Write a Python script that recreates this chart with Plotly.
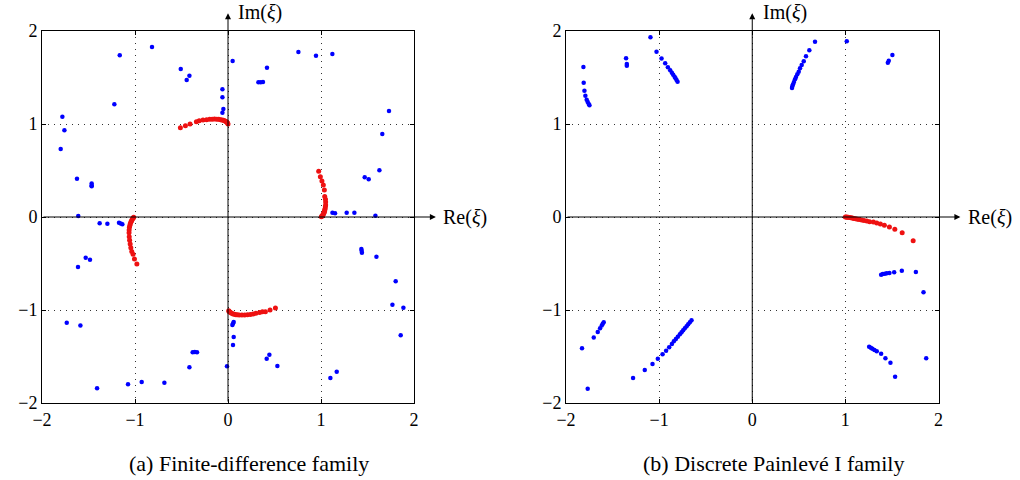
import plotly.graph_objects as go

# ---------------- data ----------------
tick_vals = [-2, -1, 0, 1, 2]
tick_text = ["\u22122", "\u22121", "0", "1", "2"]
captions = ["(a) Finite-difference family", "(b) Discrete Painlev\u00e9 I family"]

# (a) Finite-difference family: blue points
fd_blue_re = [-0.817, -1.164, 0.05, -0.508, -0.415, -0.444, -0.06, -0.06, -0.05, -0.06,
              -1.222, -1.781, -1.759, -1.799, -1.624, -1.466, -1.466, -1.466, -1.61,
              0.419, 0.327, 0.352, 0.376, 0.757, 0.946, 1.122, 1.731, 1.659, 1.628, 1.47, 1.513,
              1.123, 1.151, 1.276, 1.359, 1.585,
              -1.38, -1.297, -1.172, -1.154, -1.136, -1.53, -1.484, -1.613, -1.734, -1.587,
              -1.408, -1.075, -0.928, -0.684, -0.415, -0.38, -0.357, -0.333, -0.011,
              0.047, 0.054, 0.061, 0.061, 0.054,
              1.434, 1.437, 1.44, 1.596, 1.803, 1.768, 1.886, 1.857, 1.169, 1.101,
              0.416, 0.445, 0.531]
fd_blue_im = [1.828, 1.739, 1.677, 1.591, 1.519, 1.473, 1.373, 1.287, 1.161, 1.122,
              1.212, 1.079, 0.932, 0.731, 0.412, 0.36, 0.34, 0.33, 0.01,
              1.606, 1.448, 1.448, 1.452, 1.774, 1.735, 1.753, 1.14, 0.892, 0.502, 0.427, 0.405,
              0.046, 0.04, 0.046, 0.046, 0.014,
              -0.068, -0.072, -0.061, -0.07, -0.079, -0.437, -0.459, -0.538, -1.136, -1.168,
              -1.842, -1.799, -1.774, -1.781, -1.616, -1.455, -1.452, -1.455, -1.606,
              -1.16, -1.145, -1.13, -1.29, -1.376,
              -0.344, -0.364, -0.384, -0.427, -0.692, -0.943, -0.975, -1.272, -1.663, -1.731,
              -1.523, -1.48, -1.602]

# (a) Finite-difference family: red points (four arcs near the unit points)
fd_red_re = [0.0, -0.005, -0.01, -0.018, -0.027, -0.038, -0.05, -0.065, -0.08, -0.1, -0.12,
             -0.145, -0.17, -0.197, -0.23, -0.269, -0.31, -0.34, -0.408, -0.458, -0.512,
             1.004, 1.01, 1.018, 1.024, 1.03, 1.033, 1.038, 1.04, 1.044, 1.047, 1.05,
             1.05, 1.048, 1.04, 1.036, 1.025, 1.01, 0.993, 0.975,
             0.008, 0.012, 0.02, 0.03, 0.04, 0.055, 0.07, 0.085, 0.1, 0.12, 0.15, 0.18,
             0.21, 0.24, 0.27, 0.3, 0.34, 0.37, 0.402, 0.452, 0.51,
             -1.014, -1.02, -1.026, -1.032, -1.038, -1.044, -1.05, -1.055, -1.06, -1.063,
             -1.064, -1.062, -1.058, -1.052, -1.045, -1.035, -1.021, -1.006, -0.98]
fd_red_im = [1.0, 1.01, 1.018, 1.024, 1.03, 1.035, 1.04, 1.044, 1.047, 1.05, 1.052,
             1.053, 1.052, 1.05, 1.047, 1.043, 1.034, 1.025, 1.0, 0.982, 0.96,
             0.003, 0.01, 0.02, 0.03, 0.04, 0.05, 0.062, 0.075, 0.09, 0.11, 0.13,
             0.16, 0.19, 0.22, 0.29, 0.344, 0.387, 0.433, 0.491,
             -1.007, -1.015, -1.022, -1.03, -1.036, -1.042, -1.046, -1.05, -1.052, -1.054, -1.055, -1.054,
             -1.052, -1.048, -1.043, -1.036, -1.026, -1.02, -1.018, -1.0, -0.978,
             -0.003, -0.01, -0.02, -0.03, -0.042, -0.055, -0.07, -0.09, -0.11, -0.14,
             -0.17, -0.212, -0.25, -0.29, -0.33, -0.37, -0.401, -0.452, -0.505]

# (b) Discrete Painleve I family: blue points
dp_blue_re = [-1.813, -1.81, -1.802, -1.792, -1.778, -1.767, -1.756, -1.748,
              -1.355, -1.347, -1.347,
              -1.093, -1.028, -0.974, -0.935, -0.906, -0.881, -0.863, -0.849, -0.834, -0.824, -0.813, -0.802,
              0.674, 0.613, 0.577, 0.553, 0.531, 0.513, 0.499, 0.484, 0.47, 0.459, 0.448, 0.438, 0.43, 0.427,
              1.015, 1.505, 1.466, 1.456,
              -1.595, -1.605, -1.616, -1.634, -1.659, -1.702, -1.828, -1.767,
              -0.652, -0.67, -0.688, -0.705, -0.724, -0.742, -0.759, -0.777, -0.799, -0.82,
              -0.842, -0.863, -0.892, -0.925, -0.963, -1.014, -1.071, -1.154, -1.28,
              1.384, 1.402, 1.424, 1.445, 1.473, 1.524, 1.606, 1.757, 1.839,
              1.255, 1.273, 1.29, 1.312, 1.337, 1.384, 1.43, 1.484, 1.534, 1.868]
dp_blue_im = [1.613, 1.444, 1.358, 1.305, 1.262, 1.237, 1.215, 1.201,
              1.706, 1.645, 1.627,
              1.932, 1.778, 1.703, 1.652, 1.609, 1.577, 1.552, 1.53, 1.509, 1.491, 1.473, 1.455,
              1.885, 1.792, 1.728, 1.674, 1.634, 1.599, 1.562, 1.534, 1.505, 1.48, 1.452, 1.427, 1.405, 1.387,
              1.889, 1.742, 1.681, 1.659,
              -1.133, -1.147, -1.168, -1.197, -1.237, -1.297, -1.412, -1.846,
              -1.111, -1.133, -1.154, -1.176, -1.197, -1.219, -1.24, -1.262, -1.287, -1.312,
              -1.337, -1.366, -1.401, -1.437, -1.477, -1.523, -1.581, -1.645, -1.731,
              -0.62, -0.613, -0.609, -0.605, -0.602, -0.595, -0.577, -0.591, -0.81,
              -1.394, -1.405, -1.416, -1.43, -1.444, -1.47, -1.52, -1.567, -1.717, -1.52]

# (b) Discrete Painleve I family: red points
dp_red_re = [1.0, 1.01, 1.02, 1.03, 1.045, 1.06, 1.075, 1.09, 1.11, 1.13, 1.15, 1.175,
             1.2, 1.23, 1.26, 1.301, 1.337, 1.376, 1.419, 1.473, 1.531, 1.61, 1.728]
dp_red_im = [0.0, -0.001, -0.002, -0.004, -0.006, -0.009, -0.012, -0.015, -0.019, -0.023,
             -0.028, -0.033, -0.038, -0.044, -0.05, -0.054, -0.065, -0.075, -0.09, -0.108,
             -0.133, -0.169, -0.255]

# ---------------- figure ----------------
FONT = "Liberation Serif"
BLUE = "#0000ff"
RED = "#ee1111"
W, H = 1020, 480

fig = go.Figure()

panels = [
    (fd_blue_re, fd_blue_im, fd_red_re, fd_red_im, "x", "y"),
    (dp_blue_re, dp_blue_im, dp_red_re, dp_red_im, "x2", "y2"),
]
for bre, bim, rre, rim, xa, ya in panels:
    fig.add_trace(go.Scatter(x=bre, y=bim, mode="markers", xaxis=xa, yaxis=ya,
                             marker=dict(color=BLUE, size=4.5, line=dict(width=0)),
                             showlegend=False, cliponaxis=False))
    fig.add_trace(go.Scatter(x=rre, y=rim, mode="markers", xaxis=xa, yaxis=ya,
                             marker=dict(color=RED, size=5, line=dict(width=0)),
                             showlegend=False, cliponaxis=False))

# pixel layout of the two panels (window coordinates)
panel_px = [(42, 414), (566, 938.5)]
top_px, bot_px = 31, 403


def px_x(p):
    return p / W


def px_y(p):
    return 1 - p / H


ydom = [px_y(bot_px), px_y(top_px)]
axis_common = dict(
    range=[-2, 2], tickvals=tick_vals, ticktext=tick_text,
    showline=True, linecolor="black", linewidth=1, mirror="ticks",
    ticks="inside", ticklen=4, tickcolor="black", tickwidth=1,
    showgrid=True, gridcolor="#333333", griddash="1px,5px", gridwidth=1,
    zeroline=False, tickfont=dict(family=FONT, size=18, color="black"),
    fixedrange=True, automargin=False,
)
fig.update_layout(
    width=W, height=H,
    margin=dict(l=0, r=0, t=0, b=0, pad=0, autoexpand=False),
    paper_bgcolor="white", plot_bgcolor="white",
    hovermode=False,
    xaxis=dict(domain=[px_x(panel_px[0][0]), px_x(panel_px[0][1])], anchor="y", **axis_common),
    yaxis=dict(domain=ydom, anchor="x", **axis_common),
    xaxis2=dict(domain=[px_x(panel_px[1][0]), px_x(panel_px[1][1])], anchor="y2", **axis_common),
    yaxis2=dict(domain=ydom, anchor="x2", **axis_common),
)

annotations = []
for i, (xa, ya, cap) in enumerate([("x", "y", captions[0]), ("x2", "y2", captions[1])]):
    x0, x1 = panel_px[i]
    unit = (x1 - x0) / 4.0
    xzero = (x0 + x1) / 2.0
    yzero = (top_px + bot_px) / 2.0
    # horizontal (real) axis arrow
    annotations.append(dict(x=2.235, y=0, ax=-2, ay=0, xref=xa, yref=ya, axref=xa, ayref=ya,
                            text="", showarrow=True, arrowhead=2, arrowsize=1.2, arrowwidth=1,
                            arrowcolor="black", standoff=0, startstandoff=0))
    # vertical (imaginary) axis arrow
    annotations.append(dict(x=0, y=2.19, ax=0, ay=-2, xref=xa, yref=ya, axref=xa, ayref=ya,
                            text="", showarrow=True, arrowhead=2, arrowsize=1.2, arrowwidth=1,
                            arrowcolor="black", standoff=0, startstandoff=0))
    annotations.append(dict(x=px_x(xzero + 2.29 * unit), y=px_y(yzero), xref="paper", yref="paper",
                            xanchor="left", yanchor="middle",
                            text="Re(<i>\u03be</i>)", showarrow=False,
                            font=dict(family=FONT, size=20, color="black")))
    annotations.append(dict(x=px_x(xzero + 0.09 * unit), y=px_y(12), xref="paper", yref="paper",
                            xanchor="left", yanchor="middle",
                            text="Im(<i>\u03be</i>)", showarrow=False,
                            font=dict(family=FONT, size=20, color="black")))
    annotations.append(dict(x=px_x((x0 + x1) / 2 + 21), y=px_y(463), xref="paper", yref="paper",
                            xanchor="center", yanchor="middle", text=cap, showarrow=False,
                            font=dict(family=FONT, size=22, color="black")))
fig.update_layout(annotations=annotations)

fig.write_html("out.html", config={"displayModeBar": False, "staticPlot": True},
               post_script="document.body.style.margin='0px';")
